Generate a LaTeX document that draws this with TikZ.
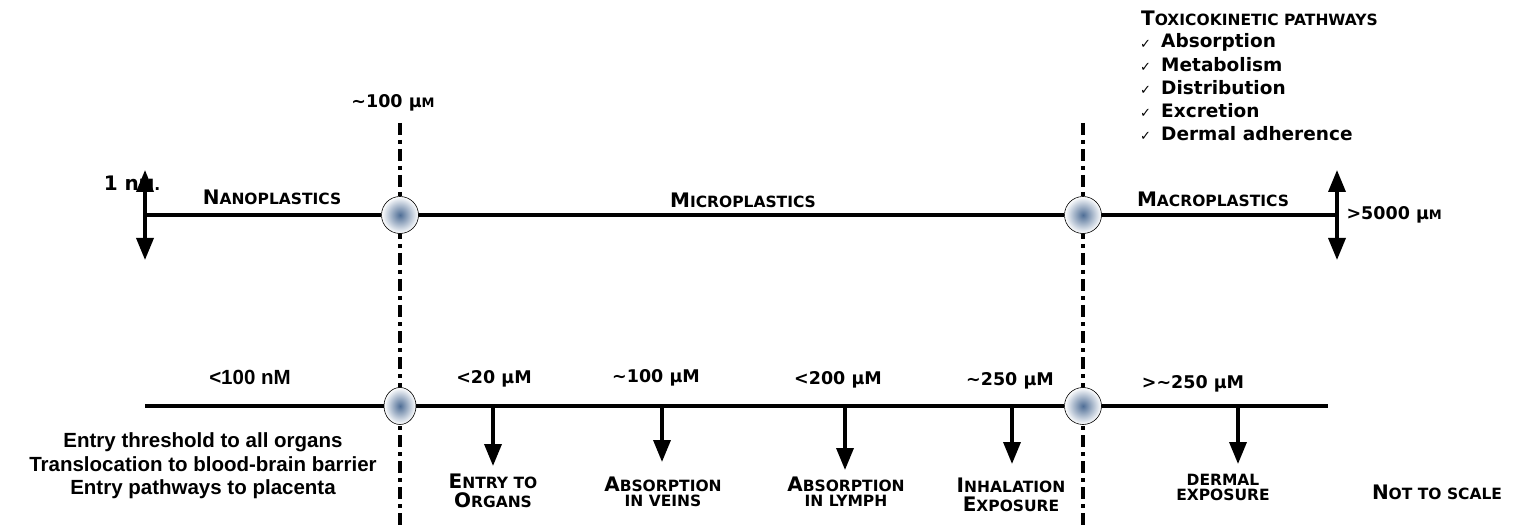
\documentclass[tikz,border=0pt]{standalone}
\usepackage{fontspec}
\setmainfont{DejaVu Sans}
\newfontfamily\narrowf{Liberation Sans}
\newfontfamily\symf{DejaVu Sans}
\usetikzlibrary{arrows.meta,shapes.geometric}
\definecolor{dotc}{HTML}{4F6E96}
\newcommand{\SC}[2]{{\fontsize{20}{20}\selectfont #1}{\fontsize{15.5}{16}\selectfont #2}}
\begin{document}
\begin{tikzpicture}[x=1pt,y=-1pt,
  axis/.style={line width=3.5pt},
  sep/.style={line width=4pt,dash pattern=on 12pt off 5pt on 4pt off 5pt},
  dot/.style={circle,draw,line width=0.6pt,minimum size=37pt,inner sep=0pt,inner color=dotc,outer color=white},
  dn/.style={line width=3.5pt,-{Triangle[length=22pt,width=17pt]}},
  dbl/.style={line width=3.5pt,{Triangle[length=22pt,width=17pt]}-{Triangle[length=22pt,width=17pt]}},
  lab/.style={font=\bfseries\fontsize{17.5}{18}\selectfont},
  sc/.style={font=\bfseries,align=center,inner sep=0pt},
  bl/.style={font=\narrowf\bfseries\fontsize{20.5}{23.5}\selectfont,align=center}]
\useasboundingbox (0,0) rectangle (1531,529);
% separators
\coordinate (s1t) at (400,123); \coordinate (s1b) at (400,529);
\coordinate (s2t) at (1083,123); \coordinate (s2b) at (1083,529);
\draw[sep] (s1t) -- (s1b);
\draw[sep] (s2t) -- (s2b);
% top axis
\coordinate (tl) at (145,215); \coordinate (tr) at (1337,215);
\draw[axis] (tl) -- (tr);
\node[dot] (c1) at (400,215) {};
\node[dot] (c2) at (1083,215) {};
\coordinate (la) at (145,170); \coordinate (lb) at (145,260);
\coordinate (ra) at (1337,170); \coordinate (rb) at (1337,260);
\draw[dbl] (la) -- (lb);
\draw[dbl] (ra) -- (rb);
\node[lab] (t100) at (393,103) {\textasciitilde100 µ{\fontsize{13}{13}\selectfont M}};
\node[sc] (nm) at (132,183) {\SC{1 n}{M.}};
\node[sc] (nano) at (272,197) {\SC{N}{ANOPLASTICS}};
\node[sc] (micro) at (743,200) {\SC{M}{ICROPLASTICS}};
\node[sc] (macro) at (1213,199) {\SC{M}{ACROPLASTICS}};
\node[lab,anchor=west] (g5000) at (1343,215) {>5000 µ{\fontsize{13}{13}\selectfont M}};
% toxicokinetic
\node[sc,anchor=west] (tox) at (1141,18) {\SC{T}{OXICOKINETIC PATHWAYS}};
\foreach \t [count=\i] in {Absorption,Metabolism,Distribution,Excretion,Dermal adherence}{
  \node[anchor=west,inner sep=0pt,font=\symf\fontsize{13}{13}\selectfont] (ck\i) at (1140,21+23*\i) {✓};
  \node[anchor=west,inner sep=0pt,font=\bfseries\fontsize{18.5}{19}\selectfont] (it\i) at (1161,19+23*\i) {\t};
}
% bottom axis
\coordinate (bl) at (145,406); \coordinate (br) at (1328,406);
\draw[axis] (bl) -- (br);
\node[dot,ellipse,minimum width=32pt,minimum height=37pt] (c3) at (400,406) {};
\node[dot] (c4) at (1083,406) {};
\foreach \x/\e/\n in {493/466/a1,662/462/a2,845/470/a3,1012/464/a4,1238/464/a5}{
  \coordinate (\n s) at (\x,406); \coordinate (\n e) at (\x,\e);
  \draw[dn] (\n s) -- (\n e);
}
\node[bl] (lt100) at (250,377) {<100 nM};
\node[lab] (l20) at (494,379) {<20 µM};
\node[lab] (l100) at (656,378) {\textasciitilde100 µM};
\node[lab] (l200) at (838,380) {<200 µM};
\node[lab] (l250) at (1010,381) {\textasciitilde250 µM};
\node[lab] (lg250) at (1193,384) {>\textasciitilde250 µM};
\node[sc] (e1) at (493,491) {\SC{E}{NTRY TO}\\[3pt]\SC{O}{RGANS}};
\node[sc] (e2) at (663,492) {\SC{A}{BSORPTION}\\[3pt]\SC{}{IN VEINS}};
\node[sc] (e3) at (846,492) {\SC{A}{BSORPTION}\\[3pt]\SC{}{IN LYMPH}};
\node[sc] (e4) at (1011,495) {\SC{I}{NHALATION}\\[3pt]\SC{E}{XPOSURE}};
\node[sc] (e5) at (1223,487) {\SC{}{DERMAL}\\[3pt]\SC{}{EXPOSURE}};
\node[sc] (nts) at (1437,492) {\SC{N}{OT TO SCALE}};
\node[bl] (blk) at (203,466) {Entry threshold to all organs\\Translocation to blood-brain barrier\\Entry pathways to placenta};
\end{tikzpicture}
\end{document}
